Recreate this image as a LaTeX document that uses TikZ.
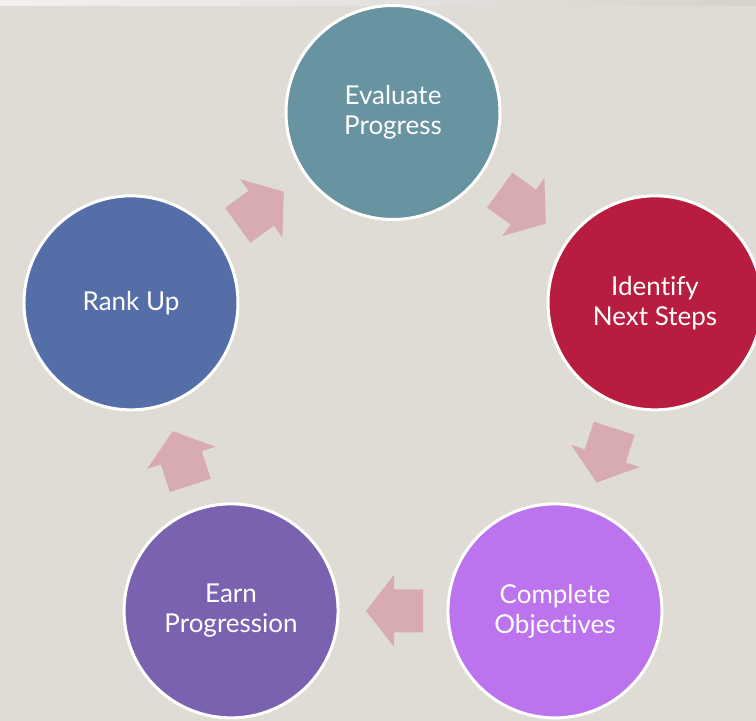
\documentclass[tikz,border=0pt]{standalone}
\usepackage{fontspec}
\setmainfont[Ligatures=NoCommon]{Lato}
\usetikzlibrary{calc}
\definecolor{bgc}{HTML}{DFDCD6}
\definecolor{evalc}{HTML}{6893A0}
\definecolor{identc}{HTML}{B81C3E}
\definecolor{compc}{HTML}{BB73EE}
\definecolor{earnc}{HTML}{7B62B0}
\definecolor{rankc}{HTML}{566EA8}
\definecolor{arrc}{HTML}{D8ABB3}
\begin{document}
\begin{tikzpicture}[x=1pt,y=1pt,
  stage/.style={circle, draw=white, line width=3pt, minimum size=214pt, inner sep=0pt,
    text=white, align=center, font=\fontsize{26}{30}\selectfont},
  blockarrow/.pic={\fill[arrc] (-30,-21.5) -- (-1,-21.5) -- (-1,-36) -- (27,0)
      -- (-1,36) -- (-1,21.5) -- (-30,21.5) -- cycle;}]
\useasboundingbox (0,0) rectangle (756,721);
\fill[bgc] (0,0) rectangle (756,721);
\shade[left color=white!60!bgc, right color=black!4!bgc] (0,715) rectangle (756,721);
\coordinate (c) at (393,333);
\node[stage, fill=evalc] (eval) at ($(c)+(90:275.5)$) {Evaluate\\Progress};
\node[stage, fill=identc] (ident) at ($(c)+(18:275.5)$) {Identify\\Next Steps};
\node[stage, fill=compc] (comp) at ($(c)+(-54:275.5)$) {Complete\\Objectives};
\node[stage, fill=earnc] (earn) at ($(c)+(-126:275.5)$) {Earn\\Progression};
\node[stage, fill=rankc] (rank) at ($(c)+(162:275.5)$) {Rank Up};
\coordinate (m1) at ($(eval)!0.5!(ident)$);
\coordinate (m2) at ($(ident)!0.5!(comp)$);
\coordinate (m3) at ($(comp)!0.5!(earn)$);
\coordinate (m4) at ($(earn)!0.5!(rank)$);
\coordinate (m5) at ($(rank)!0.5!(eval)$);
\pic[rotate=-36] at (m1) {blockarrow};
\pic[rotate=-108] at (m2) {blockarrow};
\pic[rotate=180] at (m3) {blockarrow};
\pic[rotate=108] at (m4) {blockarrow};
\pic[rotate=36] at (m5) {blockarrow};
\end{tikzpicture}
\end{document}
